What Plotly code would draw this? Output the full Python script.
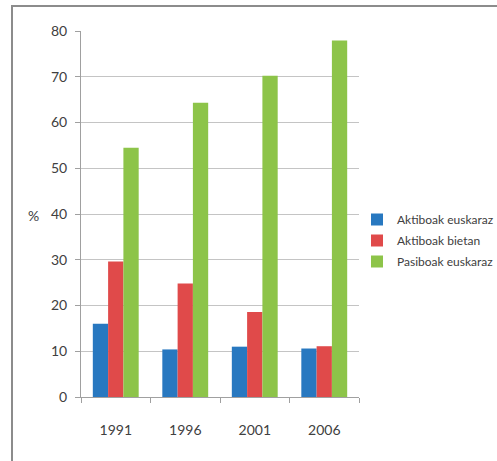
import plotly.graph_objects as go

years = ["1991", "1996", "2001", "2006"]
aktiboak_euskaraz = [16.0, 10.4, 11.0, 10.6]
aktiboak_bietan = [29.6, 24.8, 18.6, 11.1]
pasiboak_euskaraz = [54.5, 64.3, 70.2, 77.9]

series_names = ["Aktiboak euskaraz", "Aktiboak bietan", "Pasiboak euskaraz"]
colors = ["#2878C0", "#E04A4A", "#8DC449"]
series = [aktiboak_euskaraz, aktiboak_bietan, pasiboak_euskaraz]

FONT = "Lato, Open Sans, sans-serif"

fig = go.Figure()
for i, (name, vals, col) in enumerate(zip(series_names, series, colors)):
    fig.add_trace(go.Bar(x=years, y=vals, name=name, marker_color=col,
                         marker_line_width=0, legendgroup=str(i)))

W, H = 497, 461
L, R, T, B = 81, 138, 31, 64
pw = W - L - R
ph = H - T - B

def px(x):
    return (x - L) / pw

def py(y):
    return (H - B - y) / ph

fig.update_layout(
    width=W, height=H,
    margin=dict(l=L, r=R, t=T, b=B, autoexpand=False),
    paper_bgcolor="white", plot_bgcolor="white",
    barmode="group", bargap=0.34, bargroupgap=0,
    font=dict(family=FONT, size=13, color="#404040"),
    showlegend=True,
    legend=dict(x=px(357), y=py(205), xanchor="left", yanchor="top",
                font=dict(family=FONT, size=12, color="#404040"),
                tracegroupgap=2, itemwidth=30, bgcolor="rgba(0,0,0,0)"),
    xaxis=dict(type="category", showgrid=False, showline=True,
               linecolor="#A0A0A0", linewidth=1, ticks="outside",
               tickson="boundaries", ticklen=5, tickcolor="#A0A0A0",
               ticklabelstandoff=20,
               tickfont=dict(family=FONT, size=14, color="#404040")),
    yaxis=dict(range=[0, 80], dtick=10, showgrid=True, gridcolor="#C4C4C4",
               gridwidth=1, showline=True, linecolor="#A0A0A0", linewidth=1,
               ticks="outside", ticklen=5, tickcolor="#A0A0A0",
               zeroline=False, ticklabelstandoff=5,
               tickfont=dict(family=FONT, size=14, color="#404040")),
    shapes=[dict(type="rect", xref="paper", yref="paper",
                 x0=px(12), x1=px(520), y0=py(480), y1=py(6),
                 line=dict(color="#8C8C8C", width=2), fillcolor="rgba(0,0,0,0)",
                 layer="below")],
    annotations=[dict(text="%", xref="paper", yref="paper", x=px(33), y=py(215),
                      showarrow=False, xanchor="center", yanchor="middle",
                      font=dict(family=FONT, size=14, color="#404040"))],
)

fig.write_html("out.html")
